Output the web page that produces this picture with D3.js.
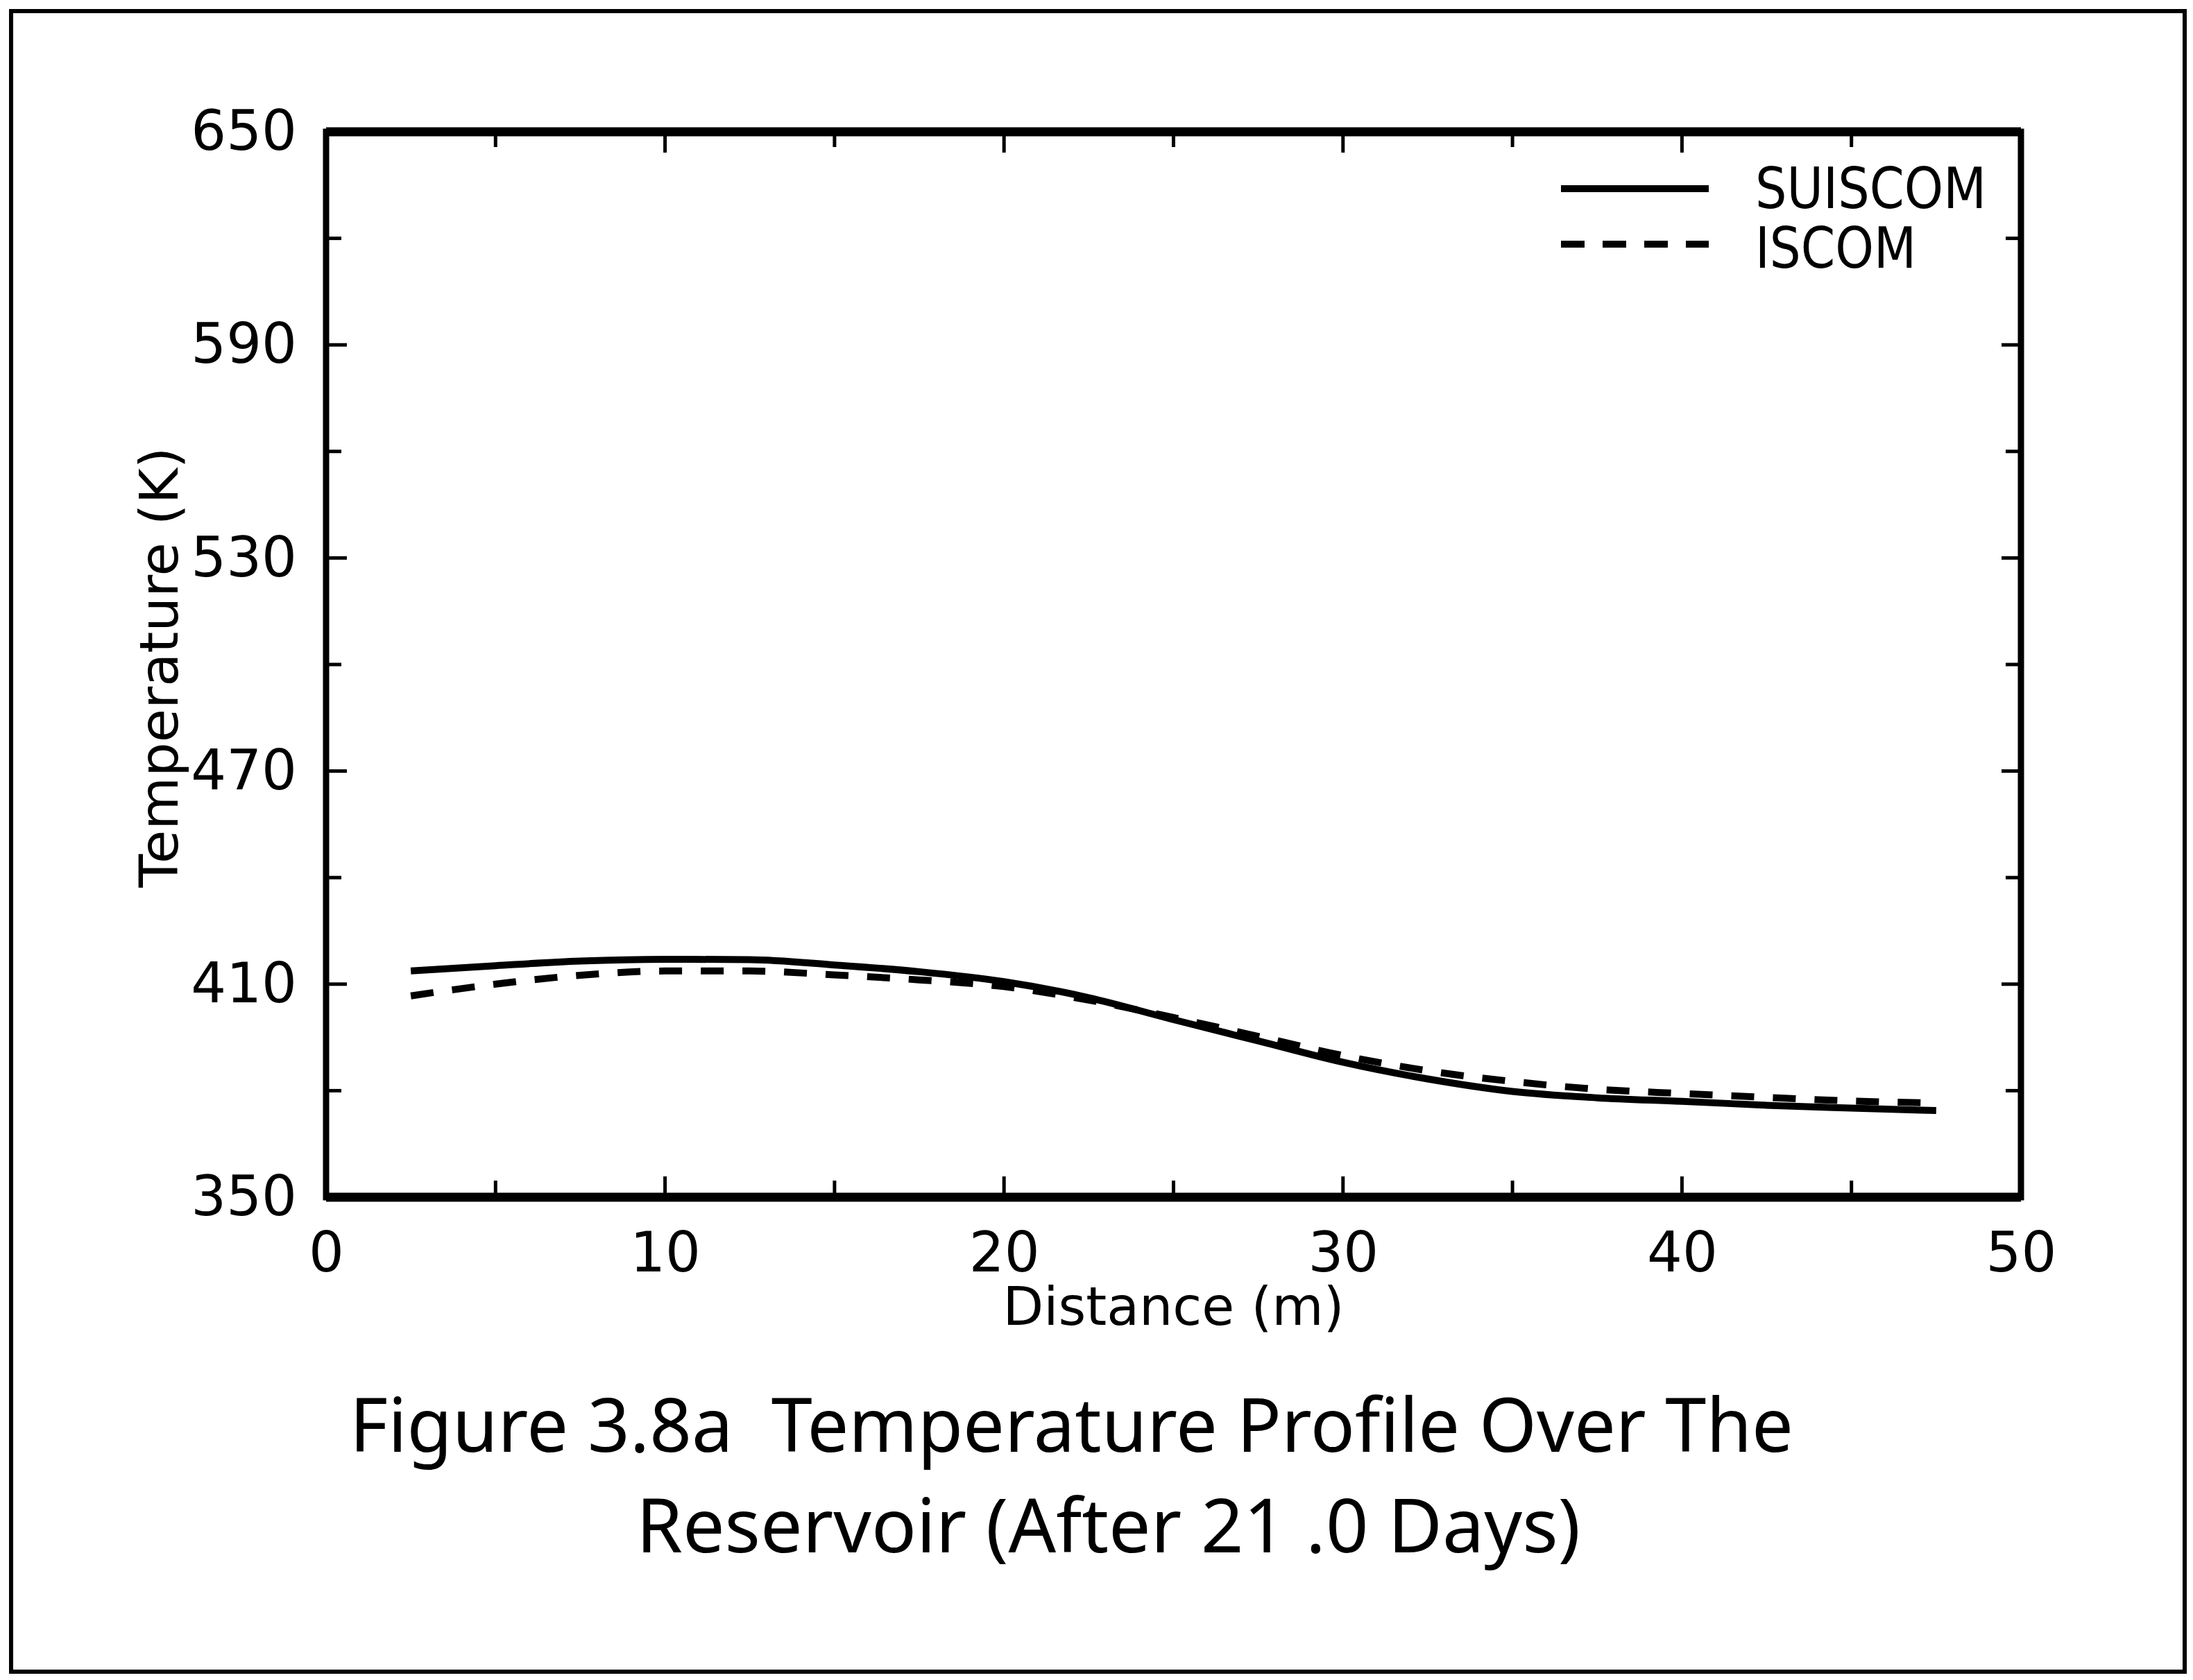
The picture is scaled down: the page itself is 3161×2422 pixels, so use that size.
<!DOCTYPE html>
<html>
<head>
<meta charset="utf-8">
<script src="https://cdn.jsdelivr.net/npm/d3@7"></script>
<style>
  html, body { margin: 0; padding: 0; background: #fff; }
  svg { display: block; }
  text { white-space: pre; }
</style>
</head>
<body>
<svg id="chart" width="3161" height="2422"></svg>
<script>
// ---- data ----
const distance = [2.5, 5, 7.5, 10, 12.5, 15, 17.5, 20, 22.5, 25, 27.5, 30, 32.5, 35, 37.5, 40, 42.5, 45, 47.5];
const suiscom  = [413.7, 415.2, 416.5, 417.0, 416.9, 415.4, 413.5, 410.7, 406.2, 400.0, 394.0, 388.0, 383.3, 379.8, 378.0, 377.0, 375.9, 375.1, 374.4];
const iscom    = [406.7, 410.0, 412.5, 413.7, 413.7, 412.6, 411.2, 409.3, 405.5, 400.6, 395.3, 389.9, 385.6, 382.6, 380.4, 379.2, 378.1, 377.1, 376.5];
const seriesNames = ["SUISCOM", "ISCOM"];
const xTickLabels = [0, 10, 20, 30, 40, 50];
const yTickLabels = [350, 410, 470, 530, 590, 650];
const xMinorTicks = [5, 15, 25, 35, 45];
const yMinorTicks = [380, 440, 500, 560, 620];
const xTitle = "Distance (m)";
const yTitle = "Temperature (K)";
const caption1 = "Figure 3.8a  Temperature Profile Over The";
const caption2 = "Reservoir (After 21 .0 Days)";

// ---- layout ----
const svg = d3.select("#chart");
const L = 470, R = 2913, T = 190, B = 1726;
const x = d3.scaleLinear().domain([0, 50]).range([L, R]);
const y = d3.scaleLinear().domain([350, 650]).range([B, T]);
const tickFont = "'DejaVu Sans', sans-serif";
const capFont = "'Noto Sans', 'DejaVu Sans', sans-serif";

// outer frame
svg.append("rect").attr("x", 16).attr("y", 16).attr("width", 3133).attr("height", 2394)
  .attr("fill", "none").attr("stroke", "#000").attr("stroke-width", 6);

// plot frame
svg.append("rect").attr("x", L).attr("y", T).attr("width", R - L).attr("height", B - T)
  .attr("fill", "none").attr("stroke", "#000").attr("stroke-width", 9);
svg.append("line").attr("x1", L).attr("x2", R).attr("y1", T).attr("y2", T).attr("stroke", "#000").attr("stroke-width", 13);
svg.append("line").attr("x1", L).attr("x2", R).attr("y1", B).attr("y2", B).attr("stroke", "#000").attr("stroke-width", 13);

const tickG = svg.append("g").attr("stroke", "#000").attr("stroke-width", 5);
// x ticks (bottom & top, inward)
xTickLabels.forEach(v => {
  tickG.append("line").attr("x1", x(v)).attr("x2", x(v)).attr("y1", B).attr("y2", B - 30);
  tickG.append("line").attr("x1", x(v)).attr("x2", x(v)).attr("y1", T).attr("y2", T + 30);
});
xMinorTicks.forEach(v => {
  tickG.append("line").attr("x1", x(v)).attr("x2", x(v)).attr("y1", B).attr("y2", B - 24);
  tickG.append("line").attr("x1", x(v)).attr("x2", x(v)).attr("y1", T).attr("y2", T + 22);
});
// y ticks (left & right, inward)
yTickLabels.forEach(v => {
  tickG.append("line").attr("x1", L).attr("x2", L + 30).attr("y1", y(v)).attr("y2", y(v));
  tickG.append("line").attr("x1", R).attr("x2", R - 28).attr("y1", y(v)).attr("y2", y(v));
});
yMinorTicks.forEach(v => {
  tickG.append("line").attr("x1", L).attr("x2", L + 22).attr("y1", y(v)).attr("y2", y(v));
  tickG.append("line").attr("x1", R).attr("x2", R - 22).attr("y1", y(v)).attr("y2", y(v));
});

// tick labels via d3 axes (no tick lines)
const xAxis = svg.append("g").attr("transform", `translate(0,${B})`)
  .call(d3.axisBottom(x).tickValues(xTickLabels).tickSize(0).tickPadding(50).tickFormat(d3.format("d")));
const yAxis = svg.append("g").attr("transform", `translate(${L},0)`)
  .call(d3.axisLeft(y).tickValues(yTickLabels).tickSize(0).tickPadding(42).tickFormat(d3.format("d")));
[xAxis, yAxis].forEach(g => {
  g.select(".domain").remove();
  g.selectAll("text").attr("font-family", tickFont).attr("font-size", 80).attr("fill", "#000");
});

// axis titles
svg.append("text").attr("x", (L + R) / 2).attr("y", 1910).attr("text-anchor", "middle")
  .attr("font-family", tickFont).attr("font-size", 76)
  .attr("textLength", 492).attr("lengthAdjust", "spacingAndGlyphs").text(xTitle);
svg.append("text").attr("transform", "translate(256,962) rotate(-90)").attr("text-anchor", "middle")
  .attr("font-family", tickFont).attr("font-size", 76)
  .attr("textLength", 635).attr("lengthAdjust", "spacingAndGlyphs").text(yTitle);

// lines
const lineGen = d3.line().x(d => x(d[0])).y(d => y(d[1])).curve(d3.curveMonotoneX);
const sData = distance.map((d, i) => [d, suiscom[i]]);
const iData = distance.map((d, i) => [d, iscom[i]]);
svg.append("path").datum(iData).attr("d", lineGen).attr("fill", "none").attr("stroke", "#000")
  .attr("stroke-width", 10).attr("stroke-dasharray", "33,27");
svg.append("path").datum(sData).attr("d", lineGen).attr("fill", "none").attr("stroke", "#000")
  .attr("stroke-width", 10);

// legend
const lg = svg.append("g");
lg.append("line").attr("x1", 2250).attr("x2", 2463).attr("y1", 272).attr("y2", 272)
  .attr("stroke", "#000").attr("stroke-width", 10);
lg.append("line").attr("x1", 2250).attr("x2", 2463).attr("y1", 352).attr("y2", 352)
  .attr("stroke", "#000").attr("stroke-width", 10).attr("stroke-dasharray", "34,26");
lg.append("text").attr("x", 2530).attr("y", 300).attr("font-family", tickFont).attr("font-size", 82)
  .attr("textLength", 333).attr("lengthAdjust", "spacingAndGlyphs").text(seriesNames[0]);
lg.append("text").attr("x", 2530).attr("y", 386).attr("font-family", tickFont).attr("font-size", 82)
  .attr("textLength", 232).attr("lengthAdjust", "spacingAndGlyphs").text(seriesNames[1]);

// caption
svg.append("text").attr("x", 504).attr("y", 2093).attr("font-family", capFont).attr("font-size", 108)
  .attr("textLength", 2081).attr("lengthAdjust", "spacingAndGlyphs").text(caption1);
svg.append("text").attr("x", 917).attr("y", 2238).attr("font-family", capFont).attr("font-size", 108)
  .attr("textLength", 1361).attr("lengthAdjust", "spacingAndGlyphs").text(caption2);
</script>
</body>
</html>
